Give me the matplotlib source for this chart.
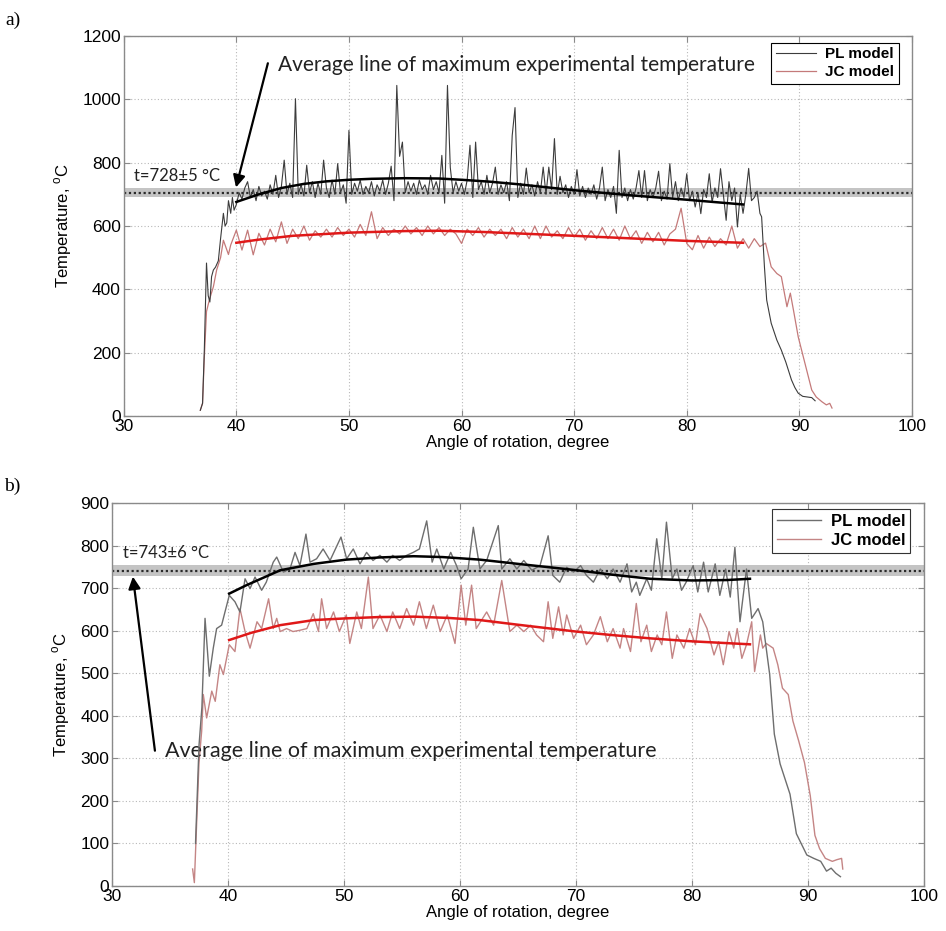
import numpy as np
import matplotlib
matplotlib.use("Agg")
import matplotlib.pyplot as plt

plt.rcParams["font.family"] = ["Liberation Sans", "DejaVu Sans"]
plt.rcParams["mathtext.fontset"] = "custom"
plt.rcParams["mathtext.rm"] = "Liberation Sans"

# ---------------- panel a) ----------------
a_pl_start_x = [36.8, 37.0, 37.15, 37.35, 37.5, 37.65, 37.8, 37.96, 38.15, 38.4, 38.6,
                38.85, 39.0, 39.15, 39.3, 39.5, 39.65, 39.8]
a_pl_start_y = [18, 40, 200, 483, 380, 360, 440, 461, 470, 490, 560, 640, 600, 610, 680,
                640, 690, 650]
# sampled every 0.25 deg from 40.0 to 86.5
a_pl_mid_y = [
    668, 705, 685, 720, 740, 690, 715, 680, 725, 695, 710, 685, 730, 700, 760, 690, 725, 808, 700, 735,
    690, 1002, 700, 730, 695, 792, 705, 740, 690, 735, 700, 808, 720, 690, 745, 700, 797, 705, 730, 672,
    902, 700, 735, 710, 745, 700, 725, 705, 740, 695, 730, 710, 745, 700, 735, 789, 680, 1044, 820, 865,
    705, 740, 710, 735, 700, 745, 715, 730, 700, 760, 715, 740, 705, 823, 672, 1044, 785, 705, 740, 710,
    735, 700, 745, 855, 690, 865, 715, 740, 700, 760, 705, 735, 786, 700, 730, 705, 740, 680, 886, 974,
    690, 735, 700, 783, 705, 730, 695, 740, 705, 786, 700, 786, 715, 876, 700, 757, 705, 730, 690, 725,
    700, 778, 695, 725, 690, 720, 700, 730, 685, 720, 786, 680, 715, 690, 725, 640, 839, 690, 720, 680,
    715, 685, 720, 775, 690, 775, 680, 715, 690, 720, 773, 680, 710, 685, 797, 690, 740, 680, 720, 690,
    765, 680, 710, 660, 705, 639, 715, 690, 765, 675, 720, 690, 781, 700, 618, 740, 680, 720, 597, 700,
    640, 700, 782, 680, 690, 710, 640,
]
a_pl_tail_x = [86.65, 86.9, 87.1, 87.3, 87.5, 88.0, 88.4, 88.8, 89.3, 89.6, 89.9, 90.3, 90.7,
               91.1, 91.4]
a_pl_tail_y = [629, 471, 366, 330, 293, 240, 208, 170, 114, 90, 72, 62, 60, 58, 48]

a_jc_start_x = [36.8, 37.0, 37.15, 37.35, 37.6, 37.96, 38.25, 38.6, 38.85, 39.1, 39.3]
a_jc_start_y = [18, 40, 180, 330, 366, 408, 461, 500, 555, 530, 510]
# sampled every 0.5 deg from 39.5 to 87.0
a_jc_mid_y = [
    540, 587, 524, 587, 509, 577, 540, 590, 550, 613, 545, 590, 560, 600, 555, 585, 565, 590, 565, 595, 570,
    590, 565, 605, 570, 645, 560, 595, 570, 590, 575, 600, 575, 595, 570, 600, 575, 595, 570, 590, 575,
    545, 590, 570, 595, 565, 590, 570, 590, 560, 595, 565, 590, 560, 600, 560, 600, 565, 585, 560, 595,
    565, 590, 555, 585, 560, 595, 560, 590, 555, 600, 560, 585, 545, 580, 550, 580, 540, 575, 590, 656,
    545, 525, 570, 530, 565, 535, 560, 540, 600, 530, 560, 530, 560, 535, 546,
]
a_jc_tail_x = [87.5, 88.0, 88.4, 88.9, 89.2, 89.5, 89.9, 90.5, 91.1, 91.5, 92.0, 92.4, 92.7, 92.9]
a_jc_tail_y = [471, 450, 440, 345, 388, 330, 250, 166, 82, 60, 45, 35, 40, 25]

a_pl_fit_x = [40, 42, 44, 46, 48, 50, 52, 55, 58, 60, 62.5, 65, 70, 75, 80, 85]
a_pl_fit_y = [676, 700, 720, 733, 741, 746, 749, 751, 750, 746, 740, 732, 713, 697, 683, 668]
a_jc_fit_x = [40, 42, 45, 50, 55, 58, 62, 66, 70, 75, 80, 85]
a_jc_fit_y = [547, 557, 569, 579, 584, 585, 581, 575, 569, 561, 553, 547]

a_band = (692, 719)
a_avg = 705

# ---------------- panel b) ----------------
b_pl_x = [37.2, 37.5, 37.75, 38.02, 38.39, 38.73, 39.02, 39.45, 39.74, 40.11, 40.6, 41.03,
          41.47, 41.9, 42.33, 42.9, 43.3, 43.9, 44.2, 44.77, 45.34, 45.78, 46.2, 46.72, 47.07,
          47.64, 48.2, 48.8, 49.74, 50.23, 50.8, 51.38, 51.95, 52.5, 53.1, 53.7, 54.2, 54.8,
          55.4, 55.97, 56.5, 57.13, 57.6, 58.0, 58.6, 59.2, 59.7, 60.1, 60.7, 61.15, 61.72,
          62.3, 63.3, 63.6, 64.3, 64.9, 65.5, 66.2, 66.9, 67.6, 68.0, 68.6, 69.2, 69.8, 70.4,
          70.9, 71.5, 72.1, 72.7, 73.2, 73.8, 74.4, 74.8, 75.2, 75.5, 76.1, 76.5, 76.96, 77.4,
          77.8, 78.3, 78.7, 79.1, 79.5, 80.1, 80.5, 81.0, 81.4, 82.0, 82.4, 82.9, 83.3, 83.7,
          84.14, 84.7, 85.15, 85.7, 86.1, 86.7, 87.1, 87.6, 88.45, 89.0, 89.9, 90.5, 91.1,
          91.6, 92.0, 92.4, 92.8]
b_pl_y = [100, 330, 420, 629, 493, 559, 605, 613, 644, 683, 668, 644,
          722, 699, 726, 695, 714, 761, 773, 738, 745, 784, 753, 827, 761,
          769, 792, 765, 820, 769, 792, 757, 784, 765, 777, 761, 777, 765,
          777, 784, 792, 858, 761, 792, 745, 784, 753, 722, 745, 843, 745,
          765, 847, 745, 769, 745, 765, 742, 753, 823, 730, 714, 749, 738, 753,
          730, 714, 745, 722, 745, 714, 757, 691, 714, 683, 722, 695, 816, 722,
          855, 722, 745, 695, 714, 753, 691, 761, 691, 757, 683, 745, 679, 796,
          621, 745, 629, 652, 621, 497, 357, 287, 216, 123, 73, 65, 58,
          35, 42, 30, 22]

b_jc_x = [36.95, 37.1, 37.3, 37.5, 37.73, 37.87, 38.16, 38.6, 38.9, 39.3, 39.6, 40.11, 40.6,
          41.03, 41.47, 41.9, 42.5, 42.9, 43.5, 43.9, 44.2, 44.5, 45.05, 45.6, 46.2, 46.8,
          47.35, 47.8, 48.07, 48.5, 49.1, 49.6, 50.2, 50.5, 51.1, 51.5, 52.1, 52.5, 53.1,
          53.7, 54.2, 54.8, 55.4, 56.0, 56.5, 57.1, 57.7, 58.3, 58.9, 59.57, 60.1, 60.5, 61.0,
          61.4, 62.3, 62.9, 63.6, 64.3, 64.9, 65.5, 66.1, 66.6, 67.2, 67.6, 68.0, 68.5, 68.9,
          69.2, 69.8, 70.4, 70.9, 71.5, 72.1, 72.7, 73.2, 73.8, 74.1, 74.7, 75.2, 75.6, 76.1,
          76.5, 77.0, 77.4, 77.8, 78.3, 78.7, 79.3, 79.8, 80.3, 80.7, 81.3, 81.9, 82.3, 82.7,
          83.2, 83.6, 83.9, 84.3, 84.7, 85.15, 85.4, 85.9, 86.1, 86.4, 87.0, 87.4, 87.8, 88.3,
          88.7, 89.2, 89.7, 90.2, 90.6, 91.0, 91.5, 92.1, 92.5, 92.9, 93.0]
b_jc_y = [40, 8, 150, 290, 364, 450, 395, 458, 434, 520, 497, 567, 551,
          652, 598, 559, 621, 605, 675, 605, 629, 598, 605, 598, 601, 605,
          640, 598, 675, 605, 644, 598, 637, 570, 644, 605, 726, 605, 637,
          598, 644, 605, 652, 613, 668, 605, 660, 598, 637, 570, 707, 613, 707,
          605, 644, 613, 718, 598, 613, 598, 613, 590, 574, 668, 582, 656, 590,
          637, 582, 613, 567, 590, 633, 574, 605, 559, 605, 551, 664, 574, 613,
          551, 590, 567, 644, 535, 590, 559, 605, 567, 640, 605, 543, 574, 520,
          598, 559, 605, 535, 567, 621, 504, 590, 559, 570, 559, 520, 465, 450,
          388, 341, 290, 212, 119, 88, 65, 58, 62, 65, 40]

b_pl_fit_x = [40.1, 41.6, 44.5, 47.4, 50.2, 53, 56, 58.5, 61.7, 65, 70.1, 73, 76.4, 80, 83, 85]
b_pl_fit_y = [687, 707, 742, 757, 767, 772, 775, 773, 767, 757, 742, 732, 722, 718, 719, 722]
b_jc_fit_x = [40.1, 42, 44.5, 47.4, 50.2, 53, 56, 59, 61.7, 65, 70, 73, 76.4, 80, 85]
b_jc_fit_y = [578, 595, 613, 625, 629, 632, 633, 630, 625, 614, 598, 590, 582, 575, 568]

b_band = (729, 755)
b_avg = 741

GRID = "#b8b8b8"
SPINE = "#8a8a8a"
NOTE_FONT = ["Lato", "DejaVu Sans"]


def style_axes(ax, ymax, ystep):
    ax.set_xlim(30, 100)
    ax.set_ylim(0, ymax)
    ax.set_xticks(np.arange(30, 101, 10))
    ax.set_yticks(np.arange(0, ymax + 1, ystep))
    ax.grid(True, linestyle=(0, (1, 2)), color=GRID, lw=0.8)
    ax.set_axisbelow(True)
    for s in ax.spines.values():
        s.set_color(SPINE)
        s.set_linewidth(1.0)
    ax.tick_params(direction="in", length=4, color=SPINE, top=True, right=True,
                   labelsize=12.5, pad=2)
    ax.set_xlabel("Angle of rotation, degree", fontsize=12, labelpad=1)
    ax.set_ylabel(r"Temperature, $^{\rm o}$C", fontsize=12, labelpad=6)


def band(ax, lims, avg):
    ax.axhspan(lims[0], lims[1], color="#c4c4c4", lw=0, zorder=1)
    ax.axhline(avg, color="#2a2a2a", lw=1.6, linestyle=(0, (1, 1.2)), zorder=2)


fig = plt.figure(figsize=(9.46, 9.31), dpi=100)

# ---- a)
ax1 = fig.add_axes([0.1308, 0.5532, 0.8332, 0.4081])
style_axes(ax1, 1200, 200)
band(ax1, a_band, a_avg)

a_pl_x = np.concatenate([a_pl_start_x, 40 + 0.25 * np.arange(len(a_pl_mid_y)), a_pl_tail_x])
a_pl_y = np.concatenate([a_pl_start_y, a_pl_mid_y, a_pl_tail_y])
a_jc_x = np.concatenate([a_jc_start_x, 39.5 + 0.5 * np.arange(len(a_jc_mid_y)), a_jc_tail_x])
a_jc_y = np.concatenate([a_jc_start_y, a_jc_mid_y, a_jc_tail_y])

l_jc, = ax1.plot(a_jc_x, a_jc_y, color="#c47a7a", lw=0.9, zorder=3, label="JC model")
l_pl, = ax1.plot(a_pl_x, a_pl_y, color="#3c3c3c", lw=0.8, zorder=4, label="PL model")
ax1.plot(a_pl_fit_x, a_pl_fit_y, color="black", lw=1.8, zorder=5)
ax1.plot(a_jc_fit_x, a_jc_fit_y, color="#e01818", lw=1.8, zorder=5)

leg = ax1.legend([l_pl, l_jc], ["PL model", "JC model"], loc="upper right",
                 bbox_to_anchor=(0.983, 0.982), fancybox=False, framealpha=1,
                 edgecolor="black", prop={"weight": "bold", "size": 11},
                 handlelength=2.6, borderpad=0.3, labelspacing=0.25, handletextpad=0.6,
                 borderaxespad=0)
leg.get_frame().set_linewidth(0.8)

ax1.text(30.9, 758, "t=728±5 °C", fontsize=12, family=NOTE_FONT, va="center", color="#222222")
ax1.annotate("", xy=(39.97, 722), xytext=(42.8, 1114),
             arrowprops=dict(arrowstyle="-|>", color="black", lw=1.6, mutation_scale=18,
                             shrinkA=0, shrinkB=0))
ax1.text(43.7, 1107, "Average line of maximum experimental temperature", fontsize=15,
         family=NOTE_FONT, va="center", color="#222222")
fig.text(0.006, 0.978, "a)", fontsize=14, family=["Liberation Serif"], va="center")

# ---- b)
ax2 = fig.add_axes([0.1184, 0.0483, 0.8583, 0.4114])
style_axes(ax2, 900, 100)
band(ax2, b_band, b_avg)

m_jc, = ax2.plot(b_jc_x, b_jc_y, color="#c48585", lw=1.0, zorder=3)
m_pl, = ax2.plot(b_pl_x, b_pl_y, color="#6e6e6e", lw=1.0, zorder=4)
ax2.plot(b_pl_fit_x, b_pl_fit_y, color="black", lw=1.8, zorder=5)
ax2.plot(b_jc_fit_x, b_jc_fit_y, color="#e01818", lw=1.8, zorder=5)

leg2 = ax2.legend([m_pl, m_jc], ["PL model", "JC model"], loc="upper right",
                  bbox_to_anchor=(0.983, 0.984), fancybox=False, framealpha=1,
                  edgecolor="#333333", prop={"weight": "bold", "size": 12},
                  handlelength=2.6, borderpad=0.3, labelspacing=0.25, handletextpad=0.6,
                  borderaxespad=0)
leg2.get_frame().set_linewidth(0.8)

ax2.text(30.95, 783, "t=743±6 °C", fontsize=12, family=NOTE_FONT, va="center", color="#222222")
ax2.annotate("", xy=(31.8, 727), xytext=(33.7, 318),
             arrowprops=dict(arrowstyle="-|>", color="black", lw=1.6, mutation_scale=18,
                             shrinkA=0, shrinkB=0))
ax2.text(34.6, 318, "Average line of maximum experimental temperature", fontsize=15.5,
         family=NOTE_FONT, va="center", color="#222222")
fig.text(0.004, 0.478, "b)", fontsize=14, family=["Liberation Serif"], va="center")

fig.savefig("out.png", dpi=100)
